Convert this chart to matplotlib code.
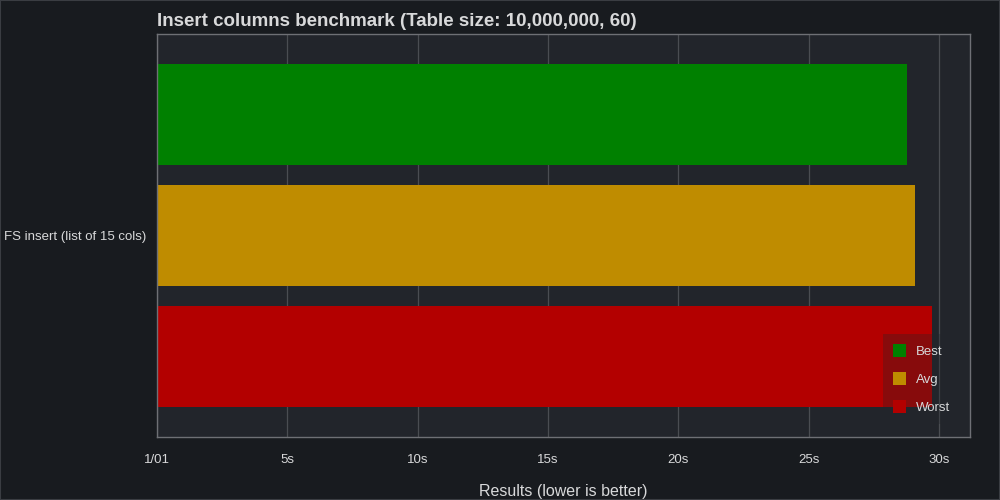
import matplotlib.pyplot as plt
from matplotlib.patches import Rectangle

category = "FS insert (list of 15 cols)"
series = ["Best", "Avg", "Worst"]
values = [28.77, 29.08, 29.73]
colors = ["#008000", "#bf8c00", "#b30000"]
xticks = [0, 5, 10, 15, 20, 25, 30]
xticklabels = ["1/01", "5s", "10s", "15s", "20s", "25s", "30s"]

fig = plt.figure(figsize=(10, 5), dpi=100, facecolor="#181b1f")
ax = fig.add_axes([0.157, 0.126, 0.813, 0.806], facecolor="#22252b")
fig.patches.append(Rectangle((0, 0), 1, 1, transform=fig.transFigure,
                             fill=False, edgecolor="#3a3d42", lw=1.5))

for i, (name, v, c) in enumerate(zip(series, values, colors)):
    ax.barh(i, v, height=0.835, color=c, label=name, zorder=2)

ax.set_ylim(2.665, -0.665)
ax.set_xlim(0, 31.19)
ax.set_yticks([1])
ax.set_yticklabels([category], color="#d8d9da", fontsize=9.5, family="Liberation Sans")
ax.set_xticks(xticks)
ax.set_xticklabels(xticklabels, color="#d8d9da", fontsize=9.5, family="Liberation Sans")
ax.tick_params(length=0, pad=12)
ax.tick_params(axis="y", pad=8)
ax.grid(axis="x", color="#4a4d52", lw=0.9, zorder=1)
for s in ax.spines.values():
    s.set_color("#6e7075")
    s.set_linewidth(1)

ax.set_xlabel("Results (lower is better)", color="#d8d9da", fontsize=11.5,
              family="Liberation Sans", labelpad=13)
fig.text(0.157, 0.957, "Insert columns benchmark (Table size: 10,000,000, 60)",
         color="#d8d9da", fontsize=13.5, fontweight="bold",
         family="Liberation Sans", ha="left", va="center")

leg = ax.legend(loc="upper left", bbox_to_anchor=(0.893, 0.256), borderaxespad=0,
                frameon=True, facecolor=(0.133, 0.145, 0.169, 0.3), edgecolor="none",
                fancybox=False, labelcolor="#d8d9da",
                prop={"family": "Liberation Sans", "size": 9.5},
                handlelength=1.0, handleheight=1.2, labelspacing=1.05,
                handletextpad=0.75, borderpad=0.75)
leg.get_frame().set_alpha(None)
leg.set_zorder(5)

fig.savefig("out.png", dpi=100, facecolor=fig.get_facecolor())
